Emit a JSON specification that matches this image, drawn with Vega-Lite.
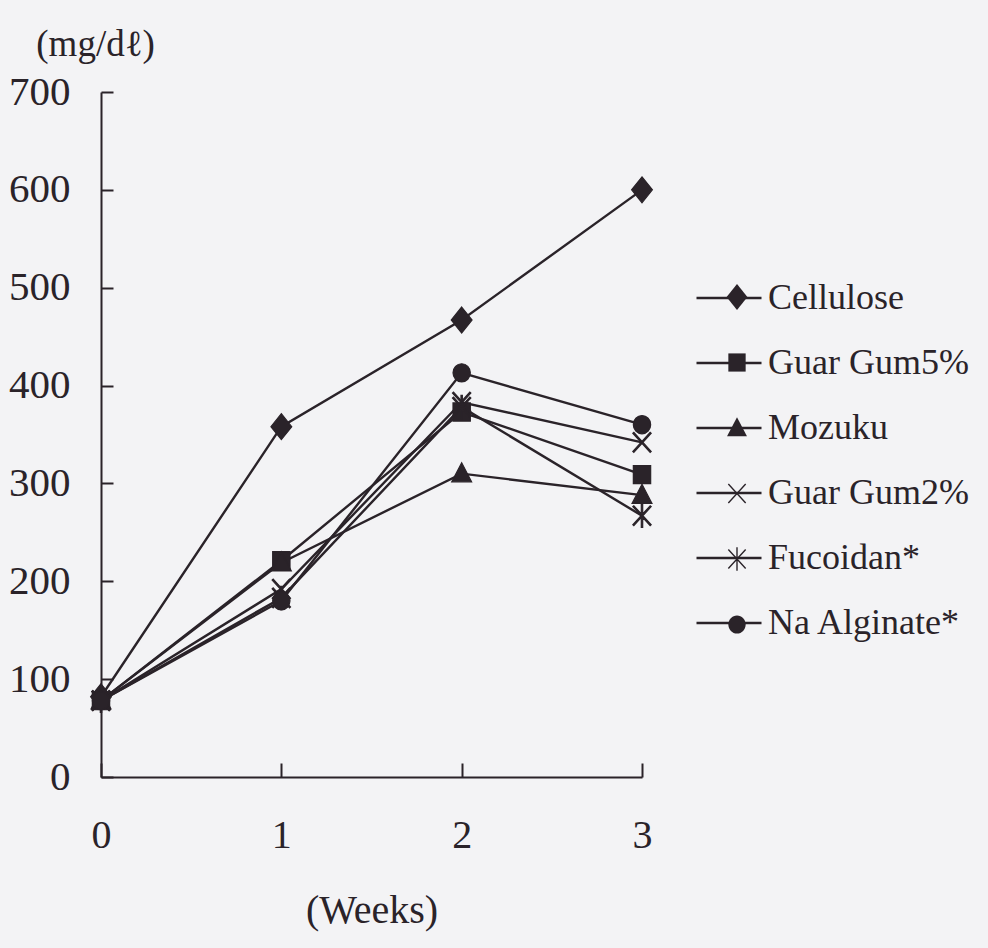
{
  "$schema": "https://vega.github.io/schema/vega-lite/v6.json",
  "width": 541,
  "height": 685,
  "autosize": "none",
  "padding": {"left": 101, "top": 92, "right": 346, "bottom": 171},
  "background": "#f3f3f5",
  "config": {
    "view": {"stroke": null},
    "font": "Liberation Serif",
    "axis": {
      "grid": false,
      "domainColor": "#2a2329",
      "domainWidth": 2,
      "tickColor": "#2a2329",
      "tickWidth": 2,
      "labelColor": "#2a2329",
      "titleColor": "#2a2329",
      "labelFont": "Liberation Serif",
      "titleFont": "Liberation Serif",
      "titleFontWeight": "normal",
      "labelOverlap": false,
      "labelFlush": false,
      "labelBound": false
    }
  },
  "data": {
    "values": [
      {"series": "Cellulose", "week": 0, "value": 82},
      {"series": "Cellulose", "week": 1, "value": 358},
      {"series": "Cellulose", "week": 2, "value": 467},
      {"series": "Cellulose", "week": 3, "value": 600},
      {"series": "Guar Gum5%", "week": 0, "value": 78},
      {"series": "Guar Gum5%", "week": 1, "value": 221},
      {"series": "Guar Gum5%", "week": 2, "value": 373},
      {"series": "Guar Gum5%", "week": 3, "value": 309},
      {"series": "Mozuku", "week": 0, "value": 78},
      {"series": "Mozuku", "week": 1, "value": 219},
      {"series": "Mozuku", "week": 2, "value": 310},
      {"series": "Mozuku", "week": 3, "value": 288},
      {"series": "Guar Gum2%", "week": 0, "value": 78},
      {"series": "Guar Gum2%", "week": 1, "value": 192},
      {"series": "Guar Gum2%", "week": 2, "value": 383},
      {"series": "Guar Gum2%", "week": 3, "value": 342},
      {"series": "Fucoidan*", "week": 0, "value": 78},
      {"series": "Fucoidan*", "week": 1, "value": 183},
      {"series": "Fucoidan*", "week": 2, "value": 378},
      {"series": "Fucoidan*", "week": 3, "value": 267},
      {"series": "Na Alginate*", "week": 0, "value": 78},
      {"series": "Na Alginate*", "week": 1, "value": 180},
      {"series": "Na Alginate*", "week": 2, "value": 413},
      {"series": "Na Alginate*", "week": 3, "value": 360}
    ]
  },
  "encoding": {
    "x": {
      "field": "week",
      "type": "quantitative",
      "scale": {"domain": [0, 3], "nice": false, "zero": false},
      "axis": {
        "values": [0, 1, 2, 3],
        "format": "d",
        "title": "(Weeks)",
        "titleFontSize": 40,
        "titlePadding": 35,
        "labelFontSize": 40,
        "tickSize": -14,
        "labelPadding": 52
      }
    },
    "y": {
      "field": "value",
      "type": "quantitative",
      "scale": {"domain": [0, 700], "nice": false},
      "axis": {
        "values": [0, 100, 200, 300, 400, 500, 600, 700],
        "title": "(mg/dℓ)",
        "titleAngle": 0,
        "titleX": -6,
        "titleY": -48,
        "titleAlign": "center",
        "titleBaseline": "middle",
        "titleFontSize": 37,
        "labelFontSize": 41,
        "tickSize": -12,
        "labelPadding": 43
      }
    }
  },
  "layer": [
    {
      "mark": {"type": "line", "strokeWidth": 2.4},
      "encoding": {
        "color": {
          "field": "series",
          "type": "nominal",
          "scale": {
            "domain": ["Cellulose", "Guar Gum5%", "Mozuku", "Guar Gum2%", "Fucoidan*", "Na Alginate*"],
            "range": ["#2a2329", "#2a2329", "#2a2329", "#2a2329", "#2a2329", "#2a2329"]
          },
          "legend": {
            "orient": "none",
            "legendX": 594,
            "legendY": 172,
            "title": null,
            "symbolType": "stroke",
            "symbolSize": 4225,
            "symbolStrokeWidth": 2.4,
            "symbolStrokeColor": "#2a2329",
            "labelFontSize": 36,
            "labelFont": "Liberation Serif",
            "labelColor": "#2a2329",
            "labelOffset": 5,
            "labelLimit": 400,
            "rowPadding": 13,
            "padding": 0
          }
        }
      }
    },
    {
      "mark": {"type": "point", "filled": true, "size": 300, "fill": "#2a2329", "stroke": "#2a2329", "strokeWidth": 1.2, "opacity": 1},
      "encoding": {
        "shape": {
          "field": "series",
          "type": "nominal",
          "scale": {
            "domain": ["Cellulose", "Guar Gum5%", "Mozuku", "Guar Gum2%", "Fucoidan*", "Na Alginate*"],
            "range": [
              "M0,-1.5L1.2,0L0,1.5L-1.2,0Z",
              "M-1,-1.05H1V1.05H-1Z",
              "M0,-1.25L1.15,0.95L-1.15,0.95Z",
              "M-1.059,-1.046L0.941,1.154L1.059,1.046L-0.941,-1.154ZM-0.941,1.154L1.059,-1.046L0.941,-1.154L-1.059,1.046Z",
              "M-1.059,-1.046L0.941,1.154L1.059,1.046L-0.941,-1.154ZM-0.941,1.154L1.059,-1.046L0.941,-1.154L-1.059,1.046ZM-0.08,-1.35L-0.08,1.35L0.08,1.35L0.08,-1.35Z",
              "M1,0A1,1.05,0,1,1,-1,0A1,1.05,0,1,1,1,0Z"
            ]
          },
          "legend": {
            "orient": "none",
            "legendX": 618,
            "legendY": 187,
            "title": null,
            "symbolSize": 300,
            "symbolFillColor": "#2a2329",
            "symbolStrokeColor": "#2a2329",
            "symbolStrokeWidth": 1.2,
            "symbolOpacity": 1,
            "labelExpr": "' '",
            "labelFontSize": 36,
            "labelFont": "Liberation Serif",
            "labelOpacity": 0,
            "rowPadding": 29.5,
            "padding": 0,
            "encode": {
              "symbols": {
                "update": {
                  "stroke": {"value": "#2a2329"},
                  "strokeWidth": {"value": 1.2},
                  "fill": {"value": "#2a2329"},
                  "opacity": {"value": 1}
                }
              }
            }
          }
        }
      }
    }
  ],
  "resolve": {"legend": {"color": "independent", "shape": "independent"}}
}
